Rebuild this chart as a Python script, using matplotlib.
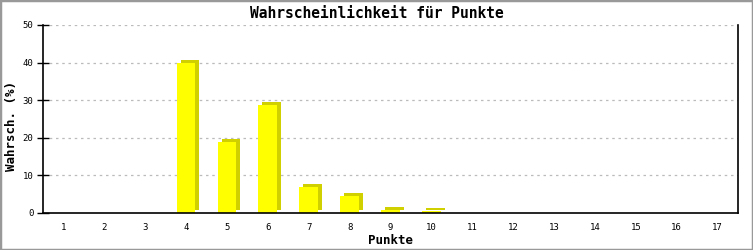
import matplotlib
matplotlib.use("Agg")
import matplotlib.pyplot as plt
import matplotlib.transforms as mtransforms
from matplotlib.patches import Rectangle

# Punkte 1..17 und Wahrscheinlichkeit in %
punkte = list(range(1, 18))
wahrsch = [0, 0, 0, 40.0, 19.0, 28.8, 7.0, 4.6, 0.8, 0.5, 0, 0, 0, 0, 0, 0, 0]

FRONT = "#ffff00"
SIDE = "#d0d000"
FONT = "DejaVu Sans Mono"

fig = plt.figure(figsize=(7.53, 2.5), dpi=100)
ax = fig.add_axes([43 / 753, 37 / 250, 695 / 753, 188 / 250])

# 3D-Schatten: dieselben Balken um 4px nach rechts / 3px nach oben versetzt
shift = mtransforms.ScaledTranslation(4 / 100, 3 / 100, fig.dpi_scale_trans)
nz = [(p, v) for p, v in zip(punkte, wahrsch) if v > 0]
ax.bar([p for p, _ in nz], [v for _, v in nz], width=0.46, color=SIDE,
       linewidth=0, transform=ax.transData + shift, zorder=2)
ax.bar([p for p, _ in nz], [v for _, v in nz], width=0.46, color=FRONT,
       linewidth=0, zorder=3)

ax.set_xlim(0.5, 17.5)
ax.set_ylim(0, 50)
ax.set_xticks(punkte)
ax.set_yticks([0, 10, 20, 30, 40, 50])
for y in [10, 20, 30, 40, 50]:
    ax.axhline(y, color="#bbbbbb", linestyle=(0, (2, 3)), linewidth=0.9, zorder=1)

ax.spines["top"].set_visible(False)
for s in ["left", "bottom", "right"]:
    ax.spines[s].set_linewidth(1.2)
    ax.spines[s].set_zorder(4)
ax.tick_params(axis="x", length=0, pad=7, labelsize=6.5)
ax.tick_params(axis="y", direction="inout", length=8, width=1, pad=3, labelsize=6.5)
for lab in ax.get_xticklabels() + ax.get_yticklabels():
    lab.set_fontfamily(FONT)

ax.set_xlabel("Punkte", fontfamily=FONT, fontweight="bold", fontsize=9, va="center")
ax.xaxis.set_label_coords(0.5, (213 - 240) / 188)
ax.set_ylabel("Wahrsch. (%)", fontfamily=FONT, fontweight="bold", fontsize=9, va="center")
ax.yaxis.set_label_coords((12 - 43) / 695, (213 - 126) / 188)
fig.text(0.5, 1 - 13 / 250, "Wahrscheinlichkeit für Punkte", ha="center", va="center",
         fontfamily=FONT, fontweight="bold", fontsize=10.5)

# grauer Rahmen um das ganze Bild
fig.patches.append(Rectangle((0, 0), 1, 1, transform=fig.transFigure, fill=False,
                             edgecolor="#999999", linewidth=2.5))

fig.savefig("out.png", dpi=100)
